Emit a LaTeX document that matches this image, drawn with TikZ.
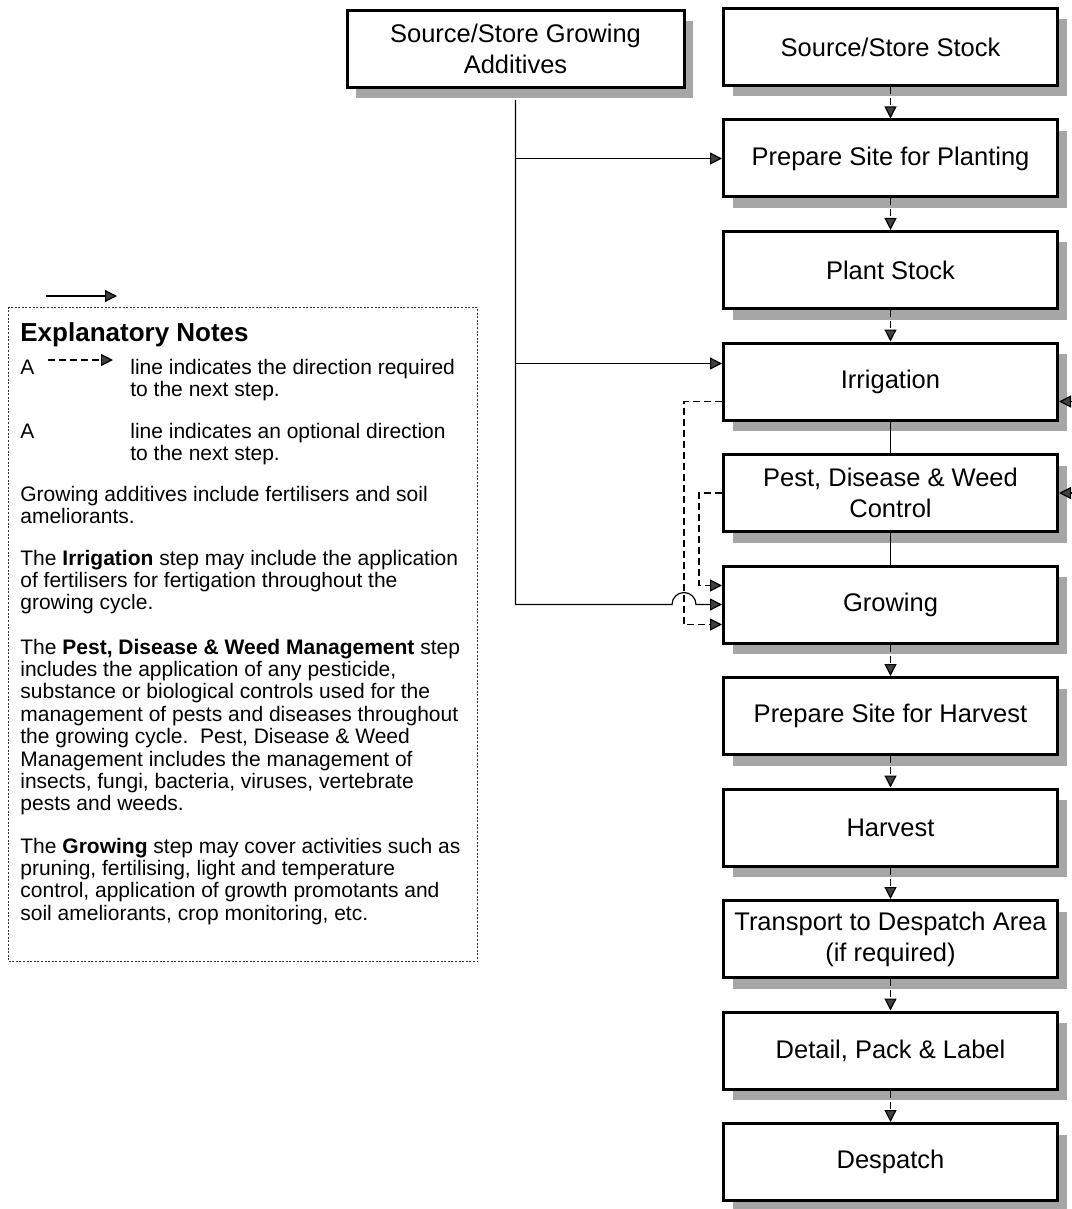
\documentclass[tikz,border=0pt]{standalone}
\usepackage{fontspec}
\setmainfont{Liberation Sans}
\usetikzlibrary{arrows.meta,shadows}

% left-aligned block of lines whose baseline is the first line's baseline
\newcommand{\notelines}[1]{\begin{tabular}[t]{@{}l@{}}#1\end{tabular}}

\begin{document}
\begin{tikzpicture}[
  x=0.5pt, y=-0.5pt,
  tip/.style={-{Triangle[length=6pt,width=6pt,fill=black!75]}},
  stepbox/.style={draw, line width=1.5pt, fill=white,
    minimum width=167pt, minimum height=38.5pt, inner sep=0pt, align=center,
    font=\fontsize{12.75}{15.5}\selectfont,
    drop shadow={shadow xshift=4.5pt, shadow yshift=-5.5pt, fill=black!35, opacity=1}},
  flow/.style={tip, line width=0.6pt, dash pattern=on 3.5pt off 2pt},
  optional/.style={tip, line width=0.6pt},
  link/.style={line width=0.6pt},
  notebox/.style={draw=black!80, line width=0.6pt, dash pattern=on 1pt off 0.8pt,
    minimum width=234.5pt, minimum height=327pt, anchor=north west, inner sep=0pt},
  notetext/.style={anchor=base west, inner sep=0pt, font=\fontsize{10.5}{11.2}\selectfont},
]
\useasboundingbox (0,0) rectangle (1071,1209);

% ---------- process steps ----------
\node[stepbox] (stock) at (890.5,47)    {Source/Store Stock};
\node[stepbox] (sitep) at (890.5,158.5) {Prepare Site for Planting};
\node[stepbox] (plant) at (890.5,270)   {Plant Stock};
\node[stepbox] (irr)   at (890.5,381.5) {Irrigation};
\node[stepbox] (pest)  at (890.5,493)   {Pest, Disease \& Weed\\Control};
\node[stepbox] (grow)  at (890.5,604.5) {Growing};
\node[stepbox] (siteh) at (890.5,716)   {Prepare Site for Harvest};
\node[stepbox] (harv)  at (890.5,827.5) {Harvest};
\node[stepbox] (trans) at (890.5,939)   {Transport to Despatch Area\\(if required)};
\node[stepbox] (pack)  at (890.5,1050.5){Detail, Pack \& Label};
\node[stepbox] (desp)  at (890.5,1162)  {Despatch};
\node[stepbox, minimum width=168.5pt] (adds) at (515.5,49) {Source/Store Growing\\Additives};

% ---------- main flow ----------
\foreach \a/\b in {stock/sitep, sitep/plant, plant/irr, grow/siteh,
                   siteh/harv, harv/trans, trans/pack, pack/desp}
  \draw[flow] (\a) -- (\b);
\draw[link] (irr) -- (pest);
\draw[link] (pest) -- (grow);

% ---------- helper coordinates ----------
\coordinate (kx1) at (684,0);
\coordinate (kx2) at (699,0);
\coordinate (edge) at (1071,0);
\coordinate (addsout) at ([yshift=-5.5pt]adds.south);
\coordinate (irrin)  at ([yshift=9pt]irr.west);
\coordinate (irrout) at ([yshift=-10pt]irr.west);
\coordinate (growhi) at ([yshift=9.5pt]grow.west);
\coordinate (growlo) at ([yshift=-10pt]grow.west);

% ---------- growing additives (optional) ----------
\draw[optional] (addsout |- sitep.west) -- (sitep.west);
\draw[optional] (addsout |- irrin) -- (irrin);
\draw[optional] (addsout) -- (addsout |- grow.west)
  -- ([xshift=-6pt]kx1 |- grow.west) arc[start angle=180, end angle=0, radius=6pt]
  -- (grow.west);

% ---------- loops back into growing ----------
\draw[flow] (irrout) -| (kx1 |- growlo) -- (growlo);
\draw[flow] (pest.west) -| (kx2 |- growhi) -- (growhi);

% ---------- incoming from the right ----------
\draw[optional] (edge |- irrout) -- (irr.east |- irrout);
\draw[optional] (edge |- pest.east) -- (pest.east);

% ---------- explanatory notes ----------
\node[notebox] (notes) at (8,307) {};
\coordinate (legS1) at (46,296);
\coordinate (legS2) at (117,296);
\draw[optional] (legS1) -- (legS2);
\coordinate (legD1) at (48,360);
\coordinate (legD2) at (113,360);
\draw[flow] (legD1) -- (legD2);

\node[notetext, font=\fontsize{13}{15}\selectfont\bfseries] (ntitle) at (20,341) {Explanatory Notes};
\node[notetext] (nA1) at (20,374) {A};
\node[notetext] (nreq) at (130,374) {\notelines{line indicates the direction required\\to the next step.}};
\node[notetext] (nA2) at (20,438) {A};
\node[notetext] (nopt) at (130,438) {\notelines{line indicates an optional direction\\to the next step.}};
\node[notetext] (nadd) at (20,501) {\notelines{Growing additives include fertilisers and soil\\ameliorants.}};
\node[notetext] (nirr) at (20,565) {\notelines{The \textbf{Irrigation} step may include the application\\of fertilisers for fertigation throughout the\\growing cycle.}};
\node[notetext] (npest) at (20,654) {\notelines{The \textbf{Pest, Disease \& Weed Management} step\\includes the application of any pesticide,\\substance or biological controls used for the\\management of pests and diseases throughout\\the growing cycle.\ \ Pest, Disease \& Weed\\Management includes the management of\\insects, fungi, bacteria, viruses, vertebrate\\pests and weeds.}};
\node[notetext] (ngrow) at (20,853) {\notelines{The \textbf{Growing} step may cover activities such as\\pruning, fertilising, light and temperature\\control, application of growth promotants and\\soil ameliorants, crop monitoring, etc.}};
\end{tikzpicture}
\end{document}
